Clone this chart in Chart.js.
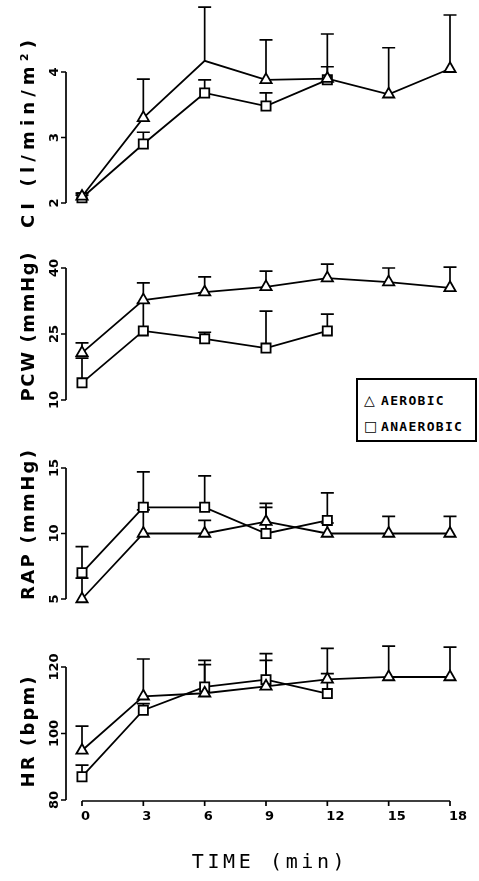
<!DOCTYPE html>
<html>
<head>
<meta charset="utf-8">
<script src="https://cdn.jsdelivr.net/npm/chart.js@4.4.0/dist/chart.umd.min.js"></script>
<style>
  html, body { margin: 0; padding: 0; background: #fff; }
  body { width: 479px; height: 881px; position: relative; overflow: hidden; }
  canvas { position: absolute; left: 0; }
  #legend {
    position: absolute; left: 356px; top: 378px; width: 121px; height: 64px;
    box-sizing: border-box; border: 2px solid #000; background: #fff;
    font: bold 13px "DejaVu Sans Mono", monospace; letter-spacing: 1.3px; color: #000;
  }
  #legend .row { position: absolute; left: 6px; white-space: nowrap; }
  #legend .sym { font: 14px "DejaVu Sans", sans-serif; letter-spacing: 0; display: inline-block; width: 17px; }
  #timeLabel {
    position: absolute; left: 150px; width: 240px; top: 849px; text-align: center;
    font: 20px "DejaVu Sans Mono", monospace; letter-spacing: 3.6px; color: #000;
  }
</style>
</head>
<body>
<canvas id="c1" width="479" height="240" style="top:0px"></canvas>
<canvas id="c2" width="479" height="200" style="top:220px"></canvas>
<canvas id="c3" width="479" height="200" style="top:420px"></canvas>
<canvas id="c4" width="479" height="261" style="top:620px"></canvas>
<div id="legend">
  <div class="row" style="top:12px"><span class="sym">△</span>AEROBIC</div>
  <div class="row" style="top:38px"><span class="sym">□</span>ANAEROBIC</div>
</div>
<div id="timeLabel">TIME (min)</div>
<script>
// ---------- data ----------
const times = [0, 3, 6, 9, 12, 15, 18];
const timeTicks = [0, 3, 6, 9, 12, 15, 18];

const ciTicks = [2, 3, 4];
const ciAer    = [2.10, 3.30, 4.17, 3.88, 3.90, 3.66, 4.05];
const ciAerErr = [2.15, 3.89, 4.99, 4.49, 4.58, 4.37, 4.87];
const ciAna    = [2.08, 2.90, 3.68, 3.48, 3.88];
const ciAnaErr = [2.12, 3.08, 3.88, 3.68, 4.08];

const pcwTicks = [10, 25, 40];
const pcwAer    = [20.7, 32.7, 34.5, 35.7, 37.7, 36.8, 35.5];
const pcwAerErr = [23.0, 36.6, 38.0, 39.3, 40.9, 40.0, 40.2];
const pcwAna    = [13.9, 25.7, 23.9, 21.8, 25.7];
const pcwAnaErr = [19.5, 32.0, 25.4, 30.2, 29.5];

const rapTicks = [5, 10, 15];
const rapAer    = [5.0, 10.0, 10.0, 10.9, 10.0, 10.0, 10.0];
const rapAerErr = [6.6, 11.8, 11.0, 12.3, 10.8, 11.3, 11.3];
const rapAna    = [7.0, 12.0, 12.0, 10.0, 11.0];
const rapAnaErr = [9.0, 14.7, 14.4, 12.0, 13.1];

const hrTicks = [80, 100, 120];
const hrAer    = [94.9, 111.2, 112.1, 114.2, 116.3, 117.0, 117.0];
const hrAerErr = [102.2, 122.4, 122.0, 124.0, 125.6, 126.3, 126.0];
const hrAna    = [87.0, 107.0, 114.0, 116.2, 112.0];
const hrAnaErr = [90.5, 109.0, 120.7, 122.0, 118.0];

// ---------- panels ----------
const panels = [
  { id: 'c1', title: 'CI (l/min/m²)', ticks: ciTicks, aer: ciAer, aerErr: ciAerErr, ana: ciAna, anaErr: ciAnaErr,
    pad: { top: 72, bottom: 37 }, titleY: 134, titleLen: 188, xAxis: false },
  { id: 'c2', title: 'PCW (mmHg)', ticks: pcwTicks, aer: pcwAer, aerErr: pcwAerErr, ana: pcwAna, anaErr: pcwAnaErr,
    pad: { top: 48, bottom: 20 }, titleY: 107, titleLen: 149, xAxis: false },
  { id: 'c3', title: 'RAP (mmHg)', ticks: rapTicks, aer: rapAer, aerErr: rapAerErr, ana: rapAna, anaErr: rapAnaErr,
    pad: { top: 48, bottom: 21 }, titleY: 105, titleLen: 150, xAxis: false },
  { id: 'c4', title: 'HR (bpm)', ticks: hrTicks, aer: hrAer, aerErr: hrAerErr, ana: hrAna, anaErr: hrAnaErr,
    pad: { top: 47, bottom: 81 }, titleY: 112, titleLen: 111, xAxis: true }
];

function drawSpaced(ctx, text, len) {
  const chars = Array.from(text);
  const widths = chars.map(c => ctx.measureText(c).width);
  const sum = widths.reduce((a, b) => a + b, 0);
  const sp = chars.length > 1 ? (len - sum) / (chars.length - 1) : 0;
  let pos = -len / 2;
  ctx.textAlign = 'left';
  chars.forEach((c, i) => { ctx.fillText(c, pos, 0); pos += widths[i] + sp; });
}

function makePlugin(p) {
  return {
    id: 'panelAxes',
    beforeDatasetsDraw(chart) {
      const ctx = chart.ctx, xs = chart.scales.x, ys = chart.scales.y;
      ctx.save();
      ctx.strokeStyle = '#000';
      ctx.lineWidth = 1.7;
      const bars = [[p.aer, p.aerErr], [p.ana, p.anaErr]];
      bars.forEach(([vals, errs]) => {
        vals.forEach((v, i) => {
          const px = xs.getPixelForValue(times[i]);
          const p0 = ys.getPixelForValue(v);
          const p1 = ys.getPixelForValue(errs[i]);
          ctx.beginPath();
          ctx.moveTo(px, p0); ctx.lineTo(px, p1);
          ctx.moveTo(px - 6.5, p1); ctx.lineTo(px + 6.5, p1);
          ctx.stroke();
        });
      });
      ctx.restore();
    },
    afterDraw(chart) {
      const ctx = chart.ctx, xs = chart.scales.x, ys = chart.scales.y;
      ctx.save();
      ctx.strokeStyle = '#000'; ctx.fillStyle = '#000'; ctx.lineWidth = 1.7;
      // y axis
      const ax = xs.left - 16;
      const tk = p.ticks;
      ctx.beginPath();
      ctx.moveTo(ax, ys.getPixelForValue(tk[0]));
      ctx.lineTo(ax, ys.getPixelForValue(tk[tk.length - 1]));
      tk.forEach(t => { const py = ys.getPixelForValue(t); ctx.moveTo(ax - 5, py); ctx.lineTo(ax, py); });
      ctx.stroke();
      ctx.font = 'bold 13px "DejaVu Sans", sans-serif';
      tk.forEach(t => {
        const py = ys.getPixelForValue(t);
        ctx.save();
        ctx.translate(ax - 8, py);
        ctx.rotate(-Math.PI / 2);
        ctx.textAlign = 'center'; ctx.textBaseline = 'alphabetic';
        ctx.fillText(String(t), 0, 0);
        ctx.restore();
      });
      // title
      ctx.font = 'bold 18px "DejaVu Sans", sans-serif';
      ctx.save();
      ctx.translate(34, p.titleY);
      ctx.rotate(-Math.PI / 2);
      ctx.textBaseline = 'alphabetic';
      drawSpaced(ctx, p.title, p.titleLen);
      ctx.restore();
      // x axis
      if (p.xAxis) {
        const yA = ys.bottom + 1;
        ctx.beginPath();
        ctx.moveTo(xs.getPixelForValue(timeTicks[0]), yA);
        ctx.lineTo(xs.getPixelForValue(timeTicks[timeTicks.length - 1]), yA);
        timeTicks.forEach(t => { const px = xs.getPixelForValue(t); ctx.moveTo(px, yA); ctx.lineTo(px, yA + 5); });
        ctx.stroke();
        ctx.font = 'bold 13px "DejaVu Sans", sans-serif';
        ctx.textAlign = 'left'; ctx.textBaseline = 'middle';
        timeTicks.forEach(t => { ctx.fillText(String(t), xs.getPixelForValue(t) - 1, yA + 16); });
      }
      ctx.restore();
    }
  };
}

panels.forEach(p => {
  const ds = (vals, style) => ({
    data: vals.map((v, i) => ({ x: times[i], y: v })),
    borderColor: '#000', borderWidth: 1.8, tension: 0, fill: false,
    pointStyle: style, pointRadius: 6.5, pointHoverRadius: 6.5,
    pointBackgroundColor: '#fff', pointBorderColor: '#000', pointBorderWidth: 1.8,
    clip: false
  });
  new Chart(document.getElementById(p.id), {
    type: 'line',
    data: { datasets: [ds(p.aer, 'triangle'), ds(p.ana, 'rect')] },
    options: {
      responsive: false, animation: false, devicePixelRatio: 1,
      layout: { padding: { left: 82, right: 29, top: p.pad.top, bottom: p.pad.bottom } },
      plugins: { legend: { display: false }, tooltip: { enabled: false } },
      scales: {
        x: { type: 'linear', min: 0, max: 18, display: false },
        y: { type: 'linear', min: p.ticks[0], max: p.ticks[p.ticks.length - 1], display: false }
      }
    },
    plugins: [makePlugin(p)]
  });
});
</script>
</body>
</html>
